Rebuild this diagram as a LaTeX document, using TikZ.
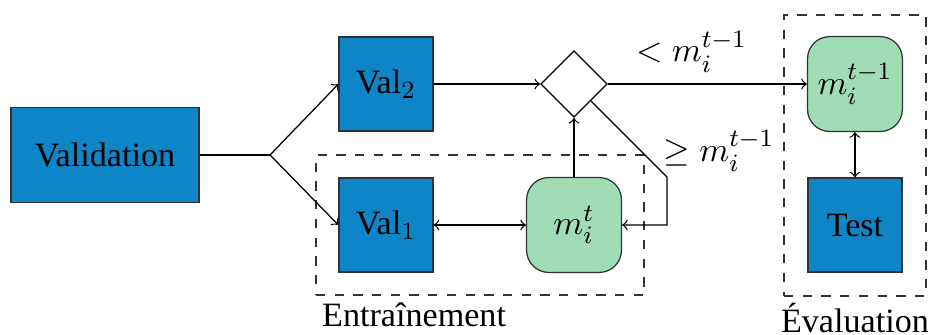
\documentclass[tikz,border=0pt,11pt]{standalone}
\usepackage[no-math]{fontspec}
\setmainfont{Liberation Serif}
\usepackage{tikz}
\usepackage{amssymb}
\usetikzlibrary{shapes.geometric}

\definecolor{setblue}{RGB}{14,133,199}
\definecolor{modelgreen}{RGB}{160,221,181}

\tikzset{
    dataset/.style={draw=black!80, fill=setblue, minimum width=1.06cm, minimum height=1.06cm, inner sep=0pt},
    model/.style={draw=black!80, fill=modelgreen, rounded corners=0.25cm, minimum width=1.07cm, minimum height=1.07cm, inner sep=0pt},
    choice/.style={draw, diamond, minimum size=0.75cm, inner sep=0pt},
    frame/.style={draw=black!80, dashed}
}

\begin{document}
\begin{tikzpicture}
        \useasboundingbox (0, 0) rectangle (10.468, -3.768);
        
        \node[frame, minimum width=3.70cm, minimum height=1.58cm] (tr) at (5.414, -2.538) {};
        \node[frame, minimum width=1.60cm, minimum height=3.17cm] (ev) at (9.644, -1.754) {};
        \node[below right, inner sep=2pt] (trl) at (tr.south west) {Entraînement};
        \node[below, inner sep=2pt] (evl) at (ev.south) {Évaluation};
        
        \node[dataset, minimum width=2.12cm, minimum height=1.07cm] (v) at (1.184, -1.748) {Validation};
        \coordinate (b) at (3.046, -1.748);
        
        \node[dataset] (v2) at (4.354, -0.948) {Val$_2$};
        \node[dataset] (v1) at (4.354, -2.538) {Val$_1$};
        
        \node[choice] (d) at (6.475, -0.948) {};
        \node[model] (mt) at (6.475, -2.538) {$m_i^t$};
        \coordinate (c) at (7.524, -1.997);
        
        \node[model] (mp) at (9.644, -0.948) {$m_i^{t-1}$};
        \node[dataset] (t) at (9.644, -2.538) {Test};
        
        \draw (v.east) -- (b);
        \draw[->] (b) -- (v2.west);
        \draw[->] (b) -- (v1.west);
        
        \draw[->] (v2) -- (d);
        \draw[<->] (v1) -- (mt);
        \draw[->] (mt) -- (d);
        
        \draw[->] (d.east) -- node[above, pos=0.42] {$< m_i^{t-1}$} (mp.west);
        \draw[->] (d.south east) -- (c) node[anchor=south west, xshift=-5pt, yshift=-2pt] {$\geq m_i^{t-1}$} |- (mt.east);
        
        \draw[<->] (mp) -- (t);
    \end{tikzpicture}
\end{document}
